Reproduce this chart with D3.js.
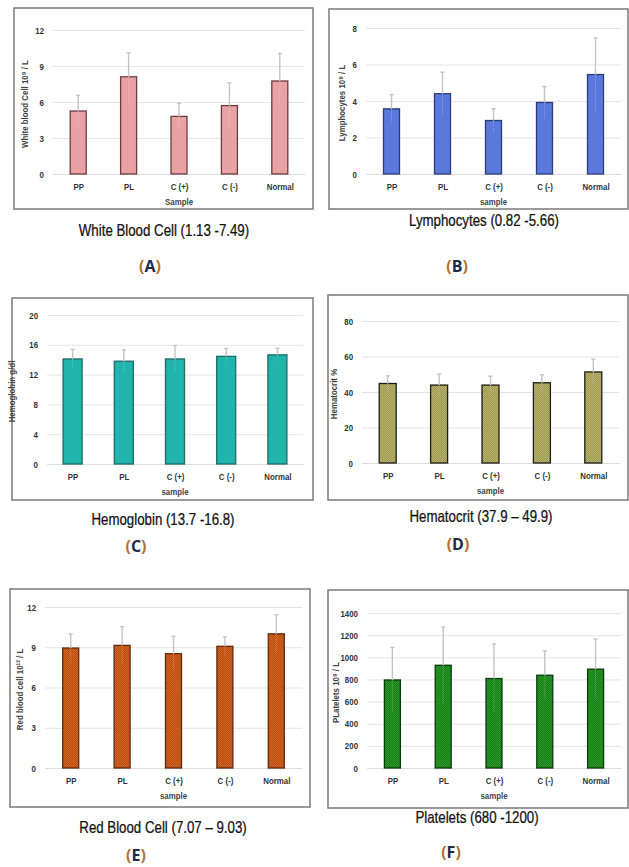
<!DOCTYPE html>
<meta charset="utf-8">
<style>
body { margin: 0; background: #fff; }
svg text { font-family: "Liberation Sans", Arial, sans-serif; }
.tick text { font-weight: bold; font-size: 9.5px; fill: #333; }
.ytitle { font-size: 9.5px; font-weight: bold; fill: #444; }
.xtitle { font-size: 9.5px; font-weight: bold; fill: #444; }
.ptitle { font-size: 16px; fill: #111; stroke: #111; stroke-width: 0.25px; }
.letter { font-family: "Open Sans", "DejaVu Sans", sans-serif !important; font-weight: bold; font-size: 16px; }
</style>
<body>
<svg id="chart" width="629" height="867"></svg>
<script src="https://d3js.org/d3.v7.min.js"></script>
<script>
var samples = ["PP", "PL", "C (+)", "C (-)", "Normal"];

var wbcMean = [5.25, 8.1, 4.8, 5.7, 7.75];
var wbcErr  = [1.3, 2.0, 1.1, 1.9, 2.3];
var lymMean = [3.57, 4.4, 2.93, 3.92, 5.45];
var lymErr  = [0.78, 1.18, 0.65, 0.87, 2.0];
var hbMean  = [14.1, 13.8, 14.1, 14.45, 14.65];
var hbErr   = [1.3, 1.5, 1.8, 1.05, 0.9];
var hctMean = [44.8, 43.9, 43.9, 45.2, 51.3];
var hctErr  = [4.3, 6.2, 5.0, 4.5, 7.2];
var rbcMean = [8.94, 9.14, 8.52, 9.07, 10.0];
var rbcErr  = [1.05, 1.4, 1.3, 0.7, 1.42];
var pltMean = [795, 928, 808, 838, 893];
var pltErr  = [293, 345, 312, 220, 272];

var wbcTicks = [0, 3, 6, 9, 12];
var lymTicks = [0, 2, 4, 6, 8];
var hbTicks  = [0, 4, 8, 12, 16, 20];
var hctTicks = [0, 20, 40, 60, 80];
var rbcTicks = [0, 3, 6, 9, 12];
var pltTicks = [0, 200, 400, 600, 800, 1000, 1200, 1400];

var NARROW = 0.83;  // fake Arial Narrow by squeezing Liberation Sans

var svg = d3.select("#chart");
var defs = svg.append("defs");

function dots(id, base, dot) {
  var p = defs.append("pattern").attr("id", id)
    .attr("width", 2).attr("height", 2).attr("patternUnits", "userSpaceOnUse");
  p.append("rect").attr("width", 2).attr("height", 2).attr("fill", base);
  p.append("rect").attr("width", 1).attr("height", 1).attr("fill", dot);
  p.append("rect").attr("x", 1).attr("y", 1).attr("width", 1).attr("height", 1).attr("fill", dot);
}
dots("patD", "#a09b52", "#b6b06c");
dots("patE", "#bf4d0d", "#cc6322");
dots("patF", "#168016", "#2a962a");

var panels = [
  {box: [14, 8, 313, 209], x: [53, 305], y: [174, 30], max: 12, ticks: wbcTicks, mean: wbcMean, err: wbcErr,
   fill: "#e9a2a3", stroke: "#6e3c3e", bw: 16, ytitle: "White blood Cell  10\u2079 / L", ytx: 25,
   xtitle: "Sample", title: "White Blood Cell (1.13 -7.49)", tx: 164, ty: 236, letter: "A", lx: 150, ly: 272},
  {box: [329, 9, 628, 209], x: [366, 621], y: [174, 28], max: 8, ticks: lymTicks, mean: lymMean, err: lymErr,
   fill: "#5b79dd", stroke: "#2c3c78", bw: 16, ytitle: "Lymphocytes 10\u2079 / L", ytx: 342,
   xtitle: "sample", title: "Lymphocytes (0.82 -5.66)", tx: 484, ty: 226, letter: "B", lx: 457, ly: 272},
  {box: [12, 298, 313, 500], x: [47, 303], y: [464, 315], max: 20, ticks: hbTicks, mean: hbMean, err: hbErr,
   fill: "#1fb5ad", stroke: "#1f6b67", bw: 19, ytitle: "Hemoglobin g/dl", ytx: 12,
   xtitle: "sample", title: "Hemoglobin (13.7 -16.8)", tx: 163, ty: 525, letter: "C", lx: 136, ly: 552},
  {box: [328, 295, 628, 500], x: [362, 619], y: [463, 321], max: 80, ticks: hctTicks, mean: hctMean, err: hctErr,
   fill: "url(#patD)", stroke: "#1e1e14", bw: 17, ytitle: "Hematocrit %", ytx: 334,
   xtitle: "sample", title: "Hematocrit (37.9 \u2013 49.9)", tx: 481, ty: 522, letter: "D", lx: 458, ly: 550},
  {box: [10, 589, 310, 807], x: [45, 302], y: [768, 607], max: 12, ticks: rbcTicks, mean: rbcMean, err: rbcErr,
   fill: "url(#patE)", stroke: "#5e2a0c", bw: 16, ytitle: "Red blood cell 10\u00b9\u00b2 / L", ytx: 20,
   xtitle: "sample", title: "Red Blood Cell (7.07 \u2013 9.03)", tx: 163, ty: 833, letter: "E", lx: 136, ly: 861},
  {box: [328, 590, 628, 808], x: [367, 621], y: [768, 613], max: 1400, ticks: pltTicks, mean: pltMean, err: pltErr,
   fill: "url(#patF)", stroke: "#0b3a0c", bw: 16, ytitle: "PLatelets 10\u2079 / L", ytx: 336,
   xtitle: "sample", title: "Platelets (680 -1200)", tx: 477, ty: 823, letter: "F", lx: 451, ly: 858}
];

panels.forEach(function(p) {
  var g = svg.append("g");
  g.append("rect")
    .attr("x", p.box[0]).attr("y", p.box[1])
    .attr("width", p.box[2] - p.box[0]).attr("height", p.box[3] - p.box[1])
    .attr("fill", "#fff").attr("stroke", "#7a7a7a").attr("stroke-width", 1.5);

  var x = d3.scalePoint().domain(samples).range(p.x).padding(0.5);
  var y = d3.scaleLinear().domain([0, p.max]).range(p.y);

  // gridlines + tick labels
  var ya = g.append("g")
    .attr("transform", "translate(" + p.x[0] + ",0)")
    .call(d3.axisLeft(y).tickValues(p.ticks).tickFormat(d3.format("d"))
      .tickSize(-(p.x[1] - p.x[0])).tickPadding(9));
  ya.select(".domain").remove();
  ya.selectAll(".tick line").attr("stroke", "#e6e6e6");
  ya.selectAll(".tick text").each(function() {
    var t = d3.select(this);
    t.attr("x", +t.attr("x") / NARROW).attr("transform", "scale(" + NARROW + ",1)");
  });

  var xa = g.append("g")
    .attr("transform", "translate(0," + p.y[0] + ")")
    .call(d3.axisBottom(x).tickSize(0).tickPadding(9));
  xa.select(".domain").attr("stroke", "#dcdcdc");
  xa.selectAll(".tick text").attr("transform", "scale(" + NARROW + ",1)");

  var data = samples.map(function(s, i) { return {s: s, v: p.mean[i], e: p.err[i]}; });

  g.selectAll(".bar").data(data).enter().append("rect")
    .attr("x", function(d) { return x(d.s) - p.bw / 2; })
    .attr("y", function(d) { return y(d.v); })
    .attr("width", p.bw)
    .attr("height", function(d) { return y(0) - y(d.v); })
    .attr("fill", p.fill).attr("stroke", p.stroke).attr("stroke-width", 1.3);

  // error bars: solid above bar, faint dotted inside
  g.selectAll(".eu").data(data).enter().append("line")
    .attr("x1", function(d) { return x(d.s); }).attr("x2", function(d) { return x(d.s); })
    .attr("y1", function(d) { return y(d.v); }).attr("y2", function(d) { return y(d.v + d.e); })
    .attr("stroke", "#c4c4c4").attr("stroke-width", 1.4);
  g.selectAll(".cap").data(data).enter().append("line")
    .attr("x1", function(d) { return x(d.s) - 2; }).attr("x2", function(d) { return x(d.s) + 2; })
    .attr("y1", function(d) { return y(d.v + d.e); }).attr("y2", function(d) { return y(d.v + d.e); })
    .attr("stroke", "#c4c4c4").attr("stroke-width", 1.4);
  g.selectAll(".el").data(data).enter().append("line")
    .attr("x1", function(d) { return x(d.s); }).attr("x2", function(d) { return x(d.s); })
    .attr("y1", function(d) { return y(d.v); }).attr("y2", function(d) { return y(Math.max(0, d.v - d.e)); })
    .attr("stroke", "#ffffff").attr("stroke-opacity", 0.35).attr("stroke-width", 1)
    .attr("stroke-dasharray", "1,1.5");

  g.append("text").attr("class", "xtitle")
    .attr("transform", "translate(" + x("C (+)") + "," + (p.y[0] + 31) + ") scale(" + NARROW + ",1)")
    .attr("text-anchor", "middle").text(p.xtitle);

  g.append("text").attr("class", "ytitle")
    .attr("transform", "translate(" + p.ytx + "," + ((p.y[0] + p.y[1]) / 2 + 2) + ") rotate(-90) scale(" + NARROW + ",1)")
    .attr("text-anchor", "middle").attr("dy", "0.35em").text(p.ytitle);

  g.append("text").attr("class", "ptitle")
    .attr("transform", "translate(" + p.tx + "," + p.ty + ") scale(" + NARROW + ",1)")
    .attr("text-anchor", "middle").text(p.title);

  var lt = g.append("text").attr("class", "letter")
    .attr("x", p.lx).attr("y", p.ly).attr("text-anchor", "middle");
  lt.append("tspan").attr("fill", "#b5702c").text("(");
  lt.append("tspan").attr("fill", "#1c2a4a").text(p.letter);
  lt.append("tspan").attr("fill", "#b5702c").text(")");
});
</script>
</body>
